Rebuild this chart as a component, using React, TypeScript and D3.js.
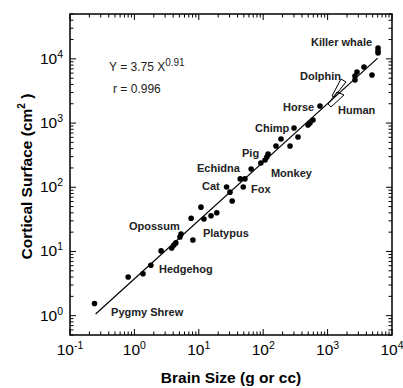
import React from 'react';
import * as d3 from 'd3';

// brain size (g) vs cortical surface (cm^2), log-log
const brainSize = [
  0.24, 0.8, 1.36, 1.8, 2.6, 3.8, 4.1, 4.4, 5.1, 5.3, 8.1, 7.6, 10.8, 12, 15.5, 19,
  27, 30.5, 33, 44, 52, 49, 65, 92, 107, 114, 119, 158, 189, 261, 301, 347, 496, 533,
  593, 762, 2660, 2660, 2860, 3675, 4890, 6070, 6070, 6070,
];
const corticalSurface = [
  1.55, 4.0, 4.5, 6.1, 10.2, 11.3, 12.6, 13.6, 16.8, 18.7, 15.1, 33, 49, 32, 36, 40,
  101, 84, 61, 135, 135, 101, 193, 239, 266, 296, 330, 440, 565, 440, 838, 607, 933, 1000,
  1117, 1845, 4690, 5410, 6250, 7470, 5600, 14760, 13270, 12350,
];

// outlines for dolphin and human ranges
const dolphinOutline: [number, number][] = [[1615, 4860], [1930, 4365], [1257, 2547], [1170, 2642]];
const humanOutline: [number, number][] = [[1400, 3048], [1798, 2736], [1130, 1780], [1014, 1983]];

const labelNames = ['Killer whale', 'Dolphin', 'Horse', 'Human', 'Chimp', 'Pig', 'Echidna', 'Monkey',
  'Cat', 'Fox', 'Opossum', 'Platypus', 'Hedgehog', 'Pygmy Shrew'];
const labelAt: [number, number][] = [[552, 15900], [373, 4690], [203, 1543], [1450, 1385], [74.6, 726],
  [46.9, 296], [9.38, 173], [132, 145], [11.2, 90.7], [64.7, 81.4], [0.824, 21.6], [11.6, 16.8],
  [2.41, 4.62], [0.434, 0.99]];

const fitA = 3.75;
const fitB = 0.91;
const fitRange = [0.25, 6000];

const xDomain = [0.1, 1e4];
const yDomain = [0.5, 5e4];

const W = 403;
const H = 388;
const margin = { top: 14, right: 11, bottom: 53, left: 70 };

const App = () => {
  const iw = W - margin.left - margin.right;
  const ih = H - margin.top - margin.bottom;
  const x = d3.scaleLog().domain(xDomain).range([0, iw]);
  const y = d3.scaleLog().domain(yDomain).range([ih, 0]);

  const isMajor = (v: number) => Math.abs(Math.log10(v) - Math.round(Math.log10(v))) < 1e-6;
  const xt = x.ticks();
  const yt = y.ticks();

  const fitLine = d3.line<number>()
    .x((d) => x(d))
    .y((d) => y(fitA * Math.pow(d, fitB)));
  const outline = d3.line<[number, number]>()
    .x((d) => x(d[0]))
    .y((d) => y(d[1]))
    .curve(d3.curveLinearClosed);

  const font = 'Arial, "Liberation Sans", sans-serif';
  const big = 6;
  const small = 3.5;

  return (
    <svg width={W} height={H} style={{ position: 'absolute', left: 0, top: 0, background: '#fff' }}
      fontFamily={font}>
      <g transform={`translate(${margin.left},${margin.top})`}>
        {/* ticks on all four sides, inward */}
        {xt.map((t, i) => {
          const len = isMajor(t) ? big : small;
          return (
            <g key={'x' + i} stroke="#000" strokeWidth={1}>
              <line x1={x(t)} x2={x(t)} y1={ih} y2={ih - len} />
              <line x1={x(t)} x2={x(t)} y1={0} y2={len} />
            </g>
          );
        })}
        {yt.map((t, i) => {
          const len = isMajor(t) ? big : small;
          return (
            <g key={'y' + i} stroke="#000" strokeWidth={1}>
              <line x1={0} x2={len} y1={y(t)} y2={y(t)} />
              <line x1={iw} x2={iw - len} y1={y(t)} y2={y(t)} />
            </g>
          );
        })}
        <rect x={0} y={0} width={iw} height={ih} fill="none" stroke="#000" strokeWidth={1.5} />

        {xt.filter(isMajor).map((t, i) => (
          <text key={'xl' + i} x={x(t)} y={ih + 20} textAnchor="middle" fontSize={15.5}>
            10<tspan dy={-6} fontSize={10.5}>{Math.round(Math.log10(t))}</tspan>
          </text>
        ))}
        {yt.filter(isMajor).map((t, i) => (
          <text key={'yl' + i} x={-7} y={y(t) + 5} textAnchor="end" fontSize={15.5}>
            10<tspan dy={-6} fontSize={10.5}>{Math.round(Math.log10(t))}</tspan>
          </text>
        ))}

        <path d={fitLine(fitRange) ?? ''} fill="none" stroke="#000" strokeWidth={1.2} />
        <path d={outline(dolphinOutline) ?? ''} fill="none" stroke="#000" strokeWidth={1} />
        <path d={outline(humanOutline) ?? ''} fill="none" stroke="#000" strokeWidth={1} />

        {brainSize.map((b, i) => (
          <circle key={'p' + i} cx={x(b)} cy={y(corticalSurface[i])} r={2.8} fill="#000" />
        ))}

        {labelNames.map((n, i) => (
          <text key={'n' + i} x={x(labelAt[i][0])} y={y(labelAt[i][1])} fontSize={11}
            fontWeight="bold" fill="#222">{n}</text>
        ))}

        <text x={x(0.404)} y={y(6470)} fontSize={12} fill="#222">
          Y = {fitA} X<tspan dy={-5} fontSize={10}>{fitB}</tspan>
        </text>
        <text x={x(0.466)} y={y(2940)} fontSize={12} fill="#222">r = 0.996</text>
      </g>

      <text x={margin.left + iw / 2} y={383} textAnchor="middle" fontSize={15.5} fontWeight="bold">
        Brain Size (g or cc)
      </text>
      <text transform={`translate(32,${margin.top + ih / 2 + 2}) rotate(-90)`} textAnchor="middle"
        fontSize={15.5} fontWeight="bold">
        Cortical Surface (cm<tspan dy={-7} fontSize={10}>2</tspan><tspan dy={7}> )</tspan>
      </text>
    </svg>
  );
};

export default App;
